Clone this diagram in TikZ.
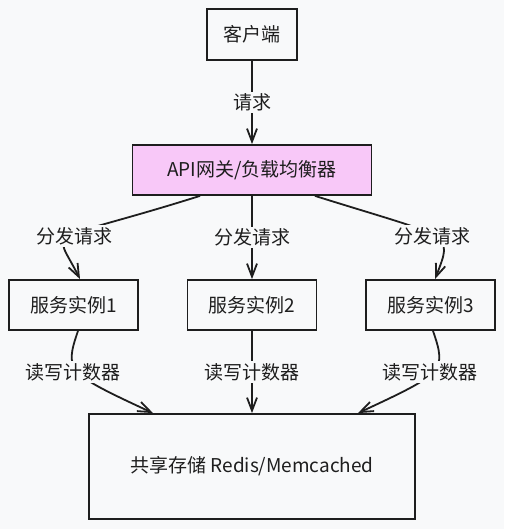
\documentclass[tikz,border=0pt]{standalone}
\usepackage{fontspec}
\setmainfont{Noto Sans CJK SC}
\usetikzlibrary{arrows.meta,calc}
\definecolor{bg}{HTML}{F8F9FA}
\definecolor{ink}{HTML}{1E1E1E}
\definecolor{gwpink}{RGB}{248,200,248}

\begin{document}
\begin{tikzpicture}[x=1pt,y=-1pt,
  txt/.style={text=ink,font=\fontsize{19}{22}\selectfont},
  box/.style={txt,draw=ink,line width=1.8pt,minimum height=50pt,inner sep=0pt},
  conn/.style={draw=ink,line width=1.8pt,-{Straight Barb[length=13pt,width=10pt]}},
  lbl/.style={txt,fill=bg,inner sep=2pt}]

% canvas
\fill[bg] (0,0) rectangle (504,529);
\useasboundingbox (0,0) rectangle (504,529);

% boxes
\node[box,minimum width=90pt,minimum height=51pt] (client) at (252,34.5) {客户端};
\node[box,fill=gwpink,minimum width=239pt] (gw) at (252,170) {API网关/负载均衡器};
\node[box,minimum width=129pt] (s1) at (73.5,305) {服务实例1};
\node[box,minimum width=129pt] (s2) at (252,305) {服务实例2};
\node[box,minimum width=129pt] (s3) at (430.5,305) {服务实例3};
\node[box,minimum width=326pt,minimum height=105pt] (store) at (252,466.5) {共享存储 Redis/Memcached};

% connector end points
\coordinate (gwL) at ($(gw.south)+(-52,0)$);
\coordinate (gwR) at ($(gw.south)+(63,0)$);
\coordinate (s1in) at ($(s1.north)+(6.5,0)$);
\coordinate (s3in) at ($(s3.north)+(4.5,0)$);
\coordinate (s1out) at ($(s1.south)+(4.5,0)$);
\coordinate (s3out) at ($(s3.south)+(2.5,0)$);
\coordinate (stL) at ($(store.north)+(-99,0)$);
\coordinate (stR) at ($(store.north)+(106,0)$);

% request
\draw[conn] (client.south) -- node[lbl]{请求} (gw.north);

% dispatch
\draw[conn] (gwL) .. controls (40.3,246.2) and (53.1,225.1) .. (s1in)
  node[lbl,pos=0.5,xshift=4pt]{分发请求};
\draw[conn] (gw.south) -- node[lbl]{分发请求} (s2.north);
\draw[conn] (gwR) .. controls (454.2,239.6) and (453.2,231.7) .. (s3in)
  node[lbl,pos=0.5,xshift=-2pt]{分发请求};

% counter access
\draw[conn] (s1out) .. controls (64.3,371) and (66.7,373) .. (stL)
  node[lbl,pos=0.5,xshift=-5pt]{读写计数器};
\draw[conn] (s2.south) -- node[lbl]{读写计数器} (store.north);
\draw[conn] (s3out) .. controls (446.7,371) and (444.3,373) .. (stR)
  node[lbl,pos=0.5,xshift=-3pt]{读写计数器};
\end{tikzpicture}
\end{document}
